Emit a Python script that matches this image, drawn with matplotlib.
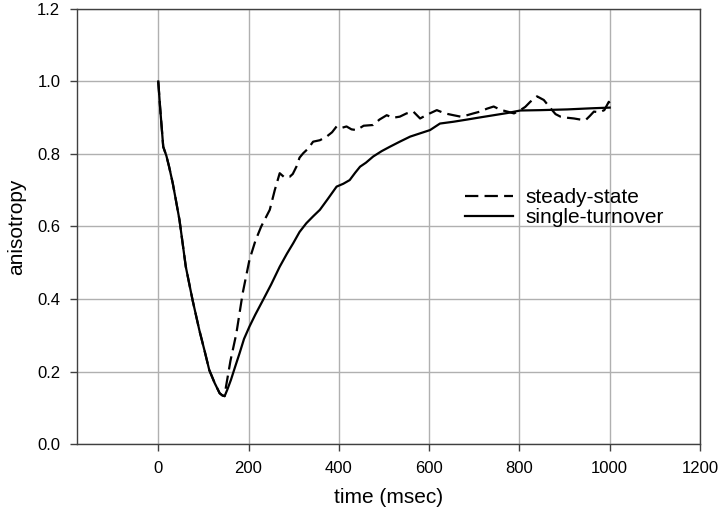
import matplotlib
matplotlib.use("Agg")
import matplotlib.pyplot as plt

plt.rcParams['font.family'] = ['Liberation Sans', 'DejaVu Sans']

# single-turnover (solid)
t_single = [0, 4, 11, 18, 24, 32, 39, 47, 61, 76, 91, 103, 113, 125, 136, 142, 147, 153, 161, 170,
            180, 190, 202, 215, 232, 250, 269, 285, 299, 313, 328, 343, 358, 375, 395, 410, 424,
            436, 447, 460, 476, 495, 513, 535, 558, 580, 602, 624, 654, 684, 713, 743, 773, 802,
            847, 906, 958, 1000]
v_single = [1.0, 0.93, 0.82, 0.795, 0.765, 0.72, 0.673, 0.618, 0.489, 0.397, 0.314, 0.255, 0.204,
            0.168, 0.14, 0.134, 0.132, 0.15, 0.177, 0.212, 0.25, 0.29, 0.324, 0.357, 0.397, 0.44,
            0.489, 0.525, 0.554, 0.585, 0.609, 0.628, 0.646, 0.675, 0.71, 0.718, 0.728, 0.748,
            0.765, 0.776, 0.793, 0.808, 0.82, 0.834, 0.848, 0.857, 0.866, 0.884, 0.889, 0.895,
            0.901, 0.907, 0.913, 0.92, 0.921, 0.923, 0.926, 0.928]

# steady-state (dashed)
t_steady = [0, 4, 11, 18, 24, 32, 39, 47, 61, 76, 91, 103, 113, 125, 136, 142, 147, 150, 160, 173,
            187, 202, 215, 228, 247, 258, 269, 280, 291, 298, 306, 313, 321, 332, 343, 358, 373,
            385, 395, 406, 417, 428, 439, 455, 476, 490, 506, 520, 535, 550, 565, 580, 598, 617,
            635, 654, 670, 684, 698, 713, 728, 743, 758, 773, 788, 802, 813, 824, 839, 854, 869,
            880, 891, 906, 921, 935, 947, 956, 965, 977, 988, 998, 1000]
v_steady = [1.0, 0.93, 0.82, 0.795, 0.765, 0.72, 0.673, 0.618, 0.489, 0.397, 0.314, 0.255, 0.204,
            0.168, 0.14, 0.134, 0.132, 0.158, 0.23, 0.305, 0.416, 0.508, 0.56, 0.6, 0.646, 0.70,
            0.747, 0.735, 0.737, 0.745, 0.765, 0.79, 0.802, 0.815, 0.834, 0.838, 0.848, 0.86,
            0.876, 0.872, 0.876, 0.868, 0.866, 0.878, 0.88, 0.895, 0.907, 0.9, 0.903, 0.912,
            0.917, 0.898, 0.91, 0.921, 0.912, 0.907, 0.903, 0.907, 0.912, 0.917, 0.925, 0.931,
            0.922, 0.917, 0.912, 0.921, 0.93, 0.944, 0.959, 0.949, 0.926, 0.91, 0.903, 0.9, 0.898,
            0.895, 0.894, 0.905, 0.917, 0.915, 0.921, 0.944, 0.94]

x_ticks = [0, 200, 400, 600, 800, 1000, 1200]
y_ticks = [0.0, 0.2, 0.4, 0.6, 0.8, 1.0, 1.2]

fig = plt.figure(figsize=(7.2, 5.2), dpi=100)
ax = fig.add_axes([77/720, 1 - 444/520, (700-77)/720, (444-9)/520])

ax.plot(t_steady, v_steady, color='black', lw=1.6, ls=(0, (6, 2.8)), label='steady-state')
ax.plot(t_single, v_single, color='black', lw=1.6, ls='-', label='single-turnover')

ax.set_xlim(-180, 1200)
ax.set_ylim(0, 1.2)
ax.set_xticks(x_ticks)
ax.set_yticks(y_ticks)
ax.set_yticklabels([f"{v:.1f}" for v in y_ticks])
ax.grid(True, color='#b0b0b0', lw=1.0)
ax.set_axisbelow(True)
for s in ax.spines.values():
    s.set_color('#404040')
    s.set_linewidth(1.0)
ax.tick_params(direction='out', length=5, width=1, color='#404040', labelsize=12, pad=7)

ax.set_xlabel('time (msec)', fontsize=15, labelpad=9)
ax.set_ylabel('anisotropy', fontsize=15, labelpad=8)

leg = ax.legend(loc='upper left', bbox_to_anchor=(0.606, 0.612), frameon=False, fontsize=15,
                handlelength=2.3, handletextpad=0.6, labelspacing=0.05, borderpad=0)

fig.savefig('out.png', dpi=100)
